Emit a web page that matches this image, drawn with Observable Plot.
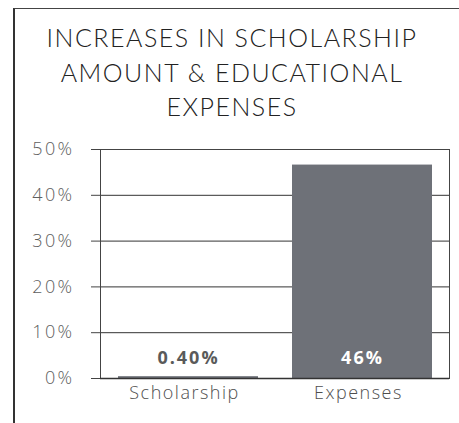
<!DOCTYPE html>
<html>
<head>
<meta charset="utf-8">
<script src="https://cdn.jsdelivr.net/npm/d3@7"></script>
<script src="https://cdn.jsdelivr.net/npm/@observablehq/plot@0.6"></script>
<style>
  html, body { margin: 0; padding: 0; background: #fff; }
  #wrap { position: relative; width: 459px; height: 423px; overflow: hidden; background: #fff; }
  #frame { position: absolute; left: 13px; top: 8px; width: 460px; height: 430px; border-left: 2px solid #333; border-top: 1.5px solid #444; }
  #title { position: absolute; left: 14px; top: 20px; width: 436px; text-align: center; font-family: Lato, sans-serif; font-weight: 300; font-size: 25px; line-height: 34.5px; color: #222; letter-spacing: 1.5px; }
  #chart { position: absolute; left: 0; top: 130px; }
</style>
</head>
<body>
<div id="wrap">
  <div id="frame"></div>
  <div id="title">INCREASES IN SCHOLARSHIP<br>AMOUNT &amp; EDUCATIONAL<br>EXPENSES</div>
  <div id="chart"></div>
</div>
<script>
const categories = ["Scholarship", "Expenses"];
const values = [0.4, 46.6];
const valueLabels = ["0.40%", "46%"];
const yTicks = [0, 10, 20, 30, 40, 50];

const data = categories.map((c, i) => ({category: c, value: values[i], label: valueLabels[i]}));

const chart = Plot.plot({
  width: 459,
  height: 293,
  marginTop: 19,
  marginBottom: 45,
  marginLeft: 100,
  marginRight: 10,
  style: {fontFamily: "'Open Sans', sans-serif", background: "transparent"},
  x: {domain: categories, padding: 0, label: null},
  y: {domain: [0, 50], label: null},
  marks: [
    Plot.gridY(yTicks, {stroke: "#333", strokeOpacity: 1, strokeWidth: 1}),
    Plot.barY(data, {x: "category", y: "value", fill: "#6e7178", insetLeft: 17, insetRight: 17}),
    Plot.frame({stroke: "#444", strokeWidth: 1}),
    Plot.ruleY([0], {stroke: "#333", strokeWidth: 1.6}),
    Plot.axisY(yTicks, {tickSize: 9, tickPadding: 17, tickFormat: d => d + "%", fontSize: 18, fontWeight: 300, fill: "#5e5e5e", stroke: "#444"}),
    Plot.axisX({tickSize: 0, tickPadding: 8, fontSize: 18, fontWeight: 300, fill: "#4e4e4e", dx: -4}),
    Plot.text(data, {x: "category", y: () => 4.5, text: "label", fontSize: 18, fontWeight: "bold", fill: (d, i) => i === 0 ? "#5a5a5a" : "#ffffff"})
  ]
});
const svg = d3.select(chart);
svg.selectAll('[aria-label="y-axis tick label"] text').style("letter-spacing", "2.4px");
svg.selectAll('[aria-label="x-axis tick label"] text').style("letter-spacing", "1.5px");
svg.selectAll('[aria-label="text"] text').style("letter-spacing", "2px");
document.getElementById("chart").appendChild(chart);
</script>
</body>
</html>
